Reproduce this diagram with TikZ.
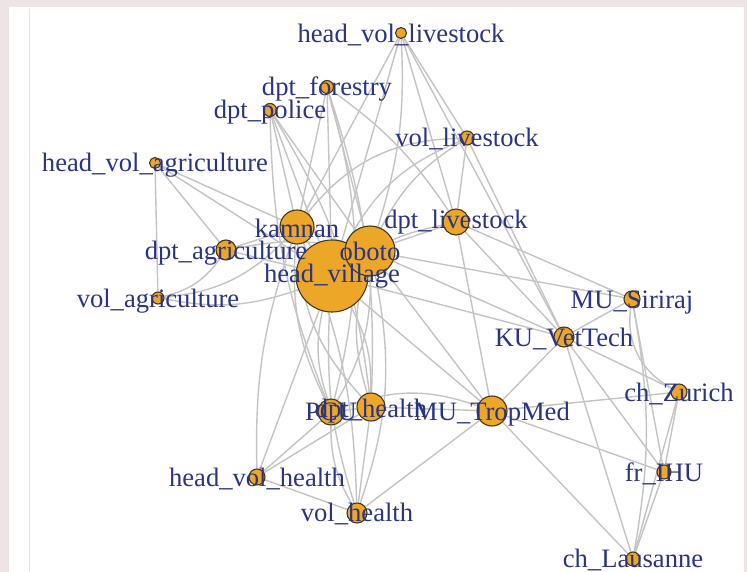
\documentclass[tikz,border=0pt]{standalone}
\usepackage{fontspec}
\setmainfont{Liberation Serif}
\definecolor{bgpink}{RGB}{237,228,230}
\definecolor{edgegray}{RGB}{196,196,196}
\definecolor{vfill}{RGB}{236,166,40}
\definecolor{vborder}{RGB}{70,55,25}
\definecolor{lblblue}{RGB}{42,52,132}
\definecolor{faintline}{RGB}{220,228,240}
\pgfdeclarelayer{back}
\pgfdeclarelayer{edges}
\pgfsetlayers{back,edges,main}
\tikzset{
  vtx/.style={circle, draw=vborder, fill=vfill, line width=1.1pt, inner sep=0pt, minimum size=#1},
  lbl/.style={text=lblblue, inner sep=0pt, anchor=base, font=\fontsize{26.6pt}{30pt}\selectfont},
  edge/.style={draw=edgegray, line width=1.4pt},
}
\begin{document}
\begin{tikzpicture}[x=1pt,y=-1pt]
\useasboundingbox (0,0) rectangle (747,572);
\begin{pgfonlayer}{back}
\fill[bgpink] (0,0) rectangle (747,572);
\fill[white] (9,7) rectangle (744,572);
\draw[faintline, line width=1pt] (29.5,8) -- (29.5,572);
\end{pgfonlayer}
% vertices
\node[vtx=11pt] (HVL) at (401,33) {};
\node[vtx=13pt] (DF) at (327,87) {};
\node[vtx=13pt] (DP) at (270,110) {};
\node[vtx=14pt] (VL) at (467,138) {};
\node[vtx=11pt] (HVA) at (155,163) {};
\node[vtx=34pt] (KA) at (297,227) {};
\node[vtx=26pt] (DL) at (456,222) {};
\node[vtx=20pt] (DA) at (226,250) {};
\node[vtx=72pt] (HV) at (332,276) {};
\node[vtx=50pt] (OB) at (370,251) {};
\node[vtx=12pt] (VA) at (158,298) {};
\node[vtx=16pt] (MS) at (632,299) {};
\node[vtx=20pt] (KV) at (564,337) {};
\node[vtx=16pt] (CZ) at (679,392) {};
\node[vtx=26pt] (PCU) at (331,412) {};
\node[vtx=28pt] (DH) at (371,407) {};
\node[vtx=30pt] (MT) at (492,411) {};
\node[vtx=14pt] (FI) at (664,472) {};
\node[vtx=16pt] (HVH) at (257,477) {};
\node[vtx=20pt] (VH) at (357,513) {};
\node[vtx=14pt] (CL) at (633,559) {};
% edges
\begin{pgfonlayer}{edges}
\foreach \a/\b in {HVA/VA, HVA/DA, HVA/KA, HVA/HV, HVL/HV, HVL/KA, HVL/VL, HVL/DL, HVL/KV,
  DF/HV, DF/OB, DF/KA, DP/HV, DP/KA, DP/OB, VL/DL, VL/KV, DL/OB, DL/KV, DL/MS, DL/MT,
  KA/OB, KA/HV, DA/KA, DA/HV, OB/HV, OB/KV, OB/MS, HV/KV, HV/MT, OB/MT, MT/VH, MT/CZ,
  MT/FI, MT/CL, MT/KV, KV/MS, KV/CZ, KV/FI, KV/CL, MS/FI, CZ/FI, CZ/CL, FI/CL, PCU/DH,
  HVH/VH, HV/HVH, PCU/HVH, DH/VH, DH/MT, HVH/DH}
  \draw[edge] (\a) -- (\b);
\foreach \a/\b/\c in {DF/PCU/15, DF/DH/10, DP/PCU/-10, DP/DH/12, VL/OB/-15, VL/HV/-20,
  VL/KA/-25, VA/DA/-20, VA/HV/-15, VA/KA/-20, DA/OB/10, HV/PCU/-15, HV/DH/15, HV/VH/-10,
  OB/PCU/15, OB/DH/-15, OB/VH/15, KA/PCU/-15, KA/DH/-20, KA/HVH/-10, KA/VH/10, PCU/VH/-15,
  PCU/MT/20, MS/CL/10, DL/HV/-10, HVL/OB/10, DF/DL/10}
  \draw[edge] (\a) to[bend left=\c] (\b);
\draw[edge] (MS) to[bend right=35] (CZ);
\end{pgfonlayer}
% labels
\node[lbl] (HVLl) at ([yshift=-10pt]HVL.center) {head\_vol\_livestock};
\node[lbl] (DFl) at ([yshift=-9pt]DF.center) {dpt\_forestry};
\node[lbl] (DPl) at ([yshift=-9pt]DP.center) {dpt\_police};
\node[lbl] (VLl) at ([yshift=-9pt]VL.center) {vol\_livestock};
\node[lbl] (HVAl) at ([yshift=-9pt]HVA.center) {head\_vol\_agriculture};
\node[lbl] (KAl) at ([yshift=-10pt]KA.center) {kamnan};
\node[lbl] (DLl) at ([yshift=-7pt]DL.center) {dpt\_livestock};
\node[lbl] (DAl) at ([yshift=-9pt]DA.center) {dpt\_agriculture};
\node[lbl] (HVl) at ([yshift=-6pt]HV.center) {head\_village};
\node[lbl] (OBl) at ([yshift=-10pt]OB.center) {oboto};
\node[lbl] (VAl) at ([yshift=-9pt]VA.center) {vol\_agriculture};
\node[lbl] (MSl) at ([yshift=-9pt]MS.center) {MU\_Siriraj};
\node[lbl] (KVl) at ([yshift=-9pt]KV.center) {KU\_VetTech};
\node[lbl] (CZl) at ([yshift=-9pt]CZ.center) {ch\_Zurich};
\node[lbl] (PCUl) at ([yshift=-8pt]PCU.center) {PCU};
\node[lbl] (DHl) at ([yshift=-10pt]DH.center) {dpt\_health};
\node[lbl] (MTl) at ([yshift=-9pt]MT.center) {MU\_TropMed};
\node[lbl] (FIl) at ([yshift=-9pt]FI.center) {fr\_IHU};
\node[lbl] (HVHl) at ([yshift=-9pt]HVH.center) {head\_vol\_health};
\node[lbl] (VHl) at ([yshift=-8pt]VH.center) {vol\_health};
\node[lbl] (CLl) at ([yshift=-8pt]CL.center) {ch\_Lausanne};
\end{tikzpicture}
\end{document}
